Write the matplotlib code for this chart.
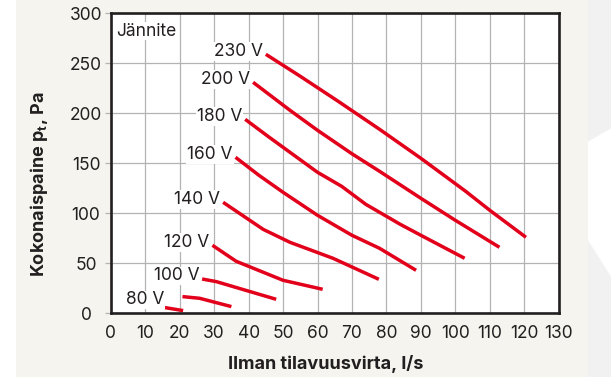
import matplotlib
matplotlib.use("Agg")
import matplotlib.pyplot as plt
from matplotlib.patches import Rectangle, Polygon

FONT = 'Inter'
plt.rcParams['font.family'] = [FONT, 'DejaVu Sans']
plt.rcParams['mathtext.fontset'] = 'custom'
plt.rcParams['mathtext.rm'] = FONT + ':bold'
plt.rcParams['mathtext.it'] = FONT + ':bold'
plt.rcParams['mathtext.bf'] = FONT + ':bold'

# ---------------- data ----------------
x_ticks = [0, 10, 20, 30, 40, 50, 60, 70, 80, 90, 100, 110, 120, 130]
y_ticks = [0, 50, 100, 150, 200, 250, 300]
x_label = "Ilman tilavuusvirta, l/s"
y_label = r"Kokonaispaine p$_\mathrm{t}$, Pa"
legend_title = "Jännite"

voltage_labels = ['230 V', '200 V', '180 V', '160 V', '140 V', '120 V', '100 V', '80 V', '']

flow_230 = [45, 55, 66, 78, 90, 103, 110, 120.5]
pres_230 = [259, 237, 212, 184, 155, 122, 103, 76]

flow_200 = [41.3, 52, 60, 70, 78, 90, 100, 112.8]
pres_200 = [231, 203, 183, 159.5, 142, 115, 93, 66]

flow_180 = [39, 46, 50, 60, 67, 74, 84, 90, 102.7]
pres_180 = [194, 176, 166, 141, 127, 109, 89, 78, 55]

flow_160 = [36.2, 43, 50, 60, 70, 78, 88.6]
pres_160 = [156, 138, 121, 98, 78, 65, 43]

flow_140 = [32.6, 44.2, 52, 64.5, 77.8]
pres_140 = [111, 84, 71, 55, 34]

flow_120 = [29.5, 36.4, 50, 61.5]
pres_120 = [68, 52, 33, 24]

flow_100 = [26.5, 30.6, 48]
pres_100 = [34.3, 31.7, 14]

flow_80 = [20.8, 25.8, 35]
pres_80 = [16.7, 15, 6.7]

flow_low = [15.7, 21]
pres_low = [5.7, 2.7]

curves = [
    (flow_230, pres_230), (flow_200, pres_200), (flow_180, pres_180),
    (flow_160, pres_160), (flow_140, pres_140), (flow_120, pres_120),
    (flow_100, pres_100), (flow_80, pres_80), (flow_low, pres_low),
]

# ---------------- style ----------------
RED = '#e2001a'
DARK = '#231f20'
GRID = '#b3b3b3'
BEIGE = '#f5f4ee'
GREYBG = '#f1f1f2'
FS = 12.5

W, H = 611, 377
fig = plt.figure(figsize=(W / 100, H / 100), dpi=100, facecolor='white')

# background panels
fig.patches.append(Rectangle((16 / W, 0), (588 - 16) / W, 1, transform=fig.transFigure,
                             facecolor=BEIGE, edgecolor='none', zorder=-10))
fig.patches.append(Rectangle((588 / W, 0), (W - 588) / W, 1, transform=fig.transFigure,
                             facecolor=GREYBG, edgecolor='none', zorder=-10))
fig.patches.append(Polygon([(588 / W, 1 - 141.7 / H), (1, 1 - 128.3 / H),
                            (1, 1 - 276.7 / H), (588 / W, 1 - 240 / H)],
                           closed=True, transform=fig.transFigure,
                           facecolor='white', edgecolor='none', zorder=-9))

ax = fig.add_axes([110.8 / W, (H - 313.3) / H, 447.9 / W, 300 / H])
ax.set_facecolor('white')

for (fx, py), lab in zip(curves, voltage_labels):
    ax.plot(fx, py, color=RED, lw=2.5, solid_capstyle='butt', solid_joinstyle='round', zorder=3)
    if lab:
        off = (-13.2, -2.4) if lab == '80 V' else (-2.0, 2.2)
        ax.annotate(lab, xy=(fx[0], py[0]), xytext=off, textcoords='offset points',
                    ha='right', va='center', fontsize=FS, color=DARK, zorder=4,
                    bbox=dict(boxstyle='square,pad=0.05', facecolor='white', edgecolor='none'))

ax.text(0.013, 0.941, legend_title, transform=ax.transAxes, ha='left', va='center',
        fontsize=FS, color=DARK, zorder=4,
        bbox=dict(boxstyle='square,pad=0.05', facecolor='white', edgecolor='none'))

ax.set_xlim(0, 130)
ax.set_ylim(0, 300)
ax.set_xticks(x_ticks)
ax.set_yticks(y_ticks)
ax.set_xticklabels([str(v) for v in x_ticks])
ax.set_yticklabels([str(v) for v in y_ticks])
ax.grid(True, color=GRID, lw=0.9, zorder=0)
ax.set_axisbelow(True)

ax.tick_params(axis='x', length=0, pad=8.5, labelsize=FS, labelcolor=DARK)
ax.tick_params(axis='y', length=4.3, width=0.9, color=GRID, pad=13.6,
               labelsize=FS, labelcolor=DARK)
for t in ax.get_yticklabels():
    t.set_horizontalalignment('center')

for s in ax.spines.values():
    s.set_color(DARK)
    s.set_linewidth(1.9)
    s.set_zorder(5)

ax.set_xlabel(x_label, fontsize=13, fontweight='bold', color=DARK, va='center')
ax.xaxis.set_label_coords((326 - 110.8) / 447.9, (313.3 - 364) / 300)
ax.set_ylabel(y_label, fontsize=13, fontweight='bold', color=DARK, va='center')
ax.yaxis.set_label_coords((39 - 110.8) / 447.9, (313.3 - 184) / 300)

fig.savefig('out.png', dpi=100, facecolor=fig.get_facecolor())
